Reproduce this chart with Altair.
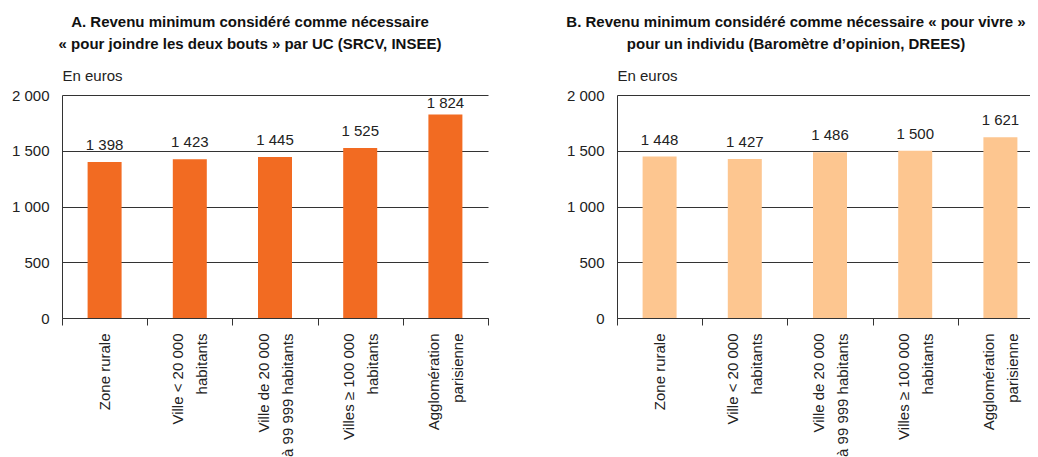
import altair as alt
import pandas as pd

categories = ["Zone rurale", "Ville < 20 000|habitants", "Ville de 20 000|à 99 999 habitants",
              "Villes ≥ 100 000|habitants", "Agglomération|parisienne"]
values_a = [1398, 1423, 1445, 1525, 1824]
values_b = [1448, 1427, 1486, 1500, 1621]
title_a = ["A. Revenu minimum considéré comme nécessaire", "« pour joindre les deux bouts » par UC (SRCV, INSEE)"]
title_b = ["B. Revenu minimum considéré comme nécessaire « pour vivre »", "pour un individu (Baromètre d’opinion, DREES)"]
unit = "En euros"
y_ticks = [0, 500, 1000, 1500, 2000]

FONT = "Liberation Sans, Arial, sans-serif"
FS = 15
ZW = "\u200b"

# two-line labels become [line1, zwsp, line2] and single-line ones [zwsp, text] so that,
# with a half line height and a fixed offset, every label block is centred on its band
LABEL_EXPR = ("indexof(datum.label, '|') >= 0 ? split(replace(datum.label, '|', '|" + ZW + "|'), '|')"
              " : ['" + ZW + "', datum.label]")


def panel(values, title, color, title_dx):
    df = pd.DataFrame({"cat": categories, "val": values})
    df["lab"] = [f"{v:,}".replace(",", " ") for v in values]
    x = alt.X("cat:N", sort=None, title=None,
              scale=alt.Scale(paddingInner=0, paddingOuter=0),
              axis=alt.Axis(labelAngle=-90, labelAlign="right", labelBaseline="middle",
                            labelExpr=LABEL_EXPR, labelLineHeight=12, labelOffset=-12,
                            tickBand="extent", tickSize=7, labelPadding=8,
                            domainColor="#333", tickColor="#333", grid=False))
    yaxis = alt.Axis(values=y_ticks, title=unit, titleAngle=0, titleX=0, titleY=-15,
                     titleAlign="left", titleBaseline="alphabetic", titleFontWeight="normal",
                     titleFont=FONT, titleFontSize=FS, titleColor="#222",
                     labelExpr="replace(format(datum.value, ','), ',', ' ')",
                     ticks=False, labelPadding=13, grid=True, gridColor="#333",
                     domainColor="#333")
    yscale = alt.Scale(domain=[0, 2000])
    bars = alt.Chart().mark_bar(color=color, size=34).encode(
        x=x, y=alt.Y("val:Q", scale=yscale, axis=yaxis))
    # labels sit 12px above the bar, kept inside the plot area near the top
    text = alt.Chart().mark_text(baseline="alphabetic", dy=-12, font=FONT, fontSize=FS,
                                 color="#222").encode(
        x=x, y=alt.Y("ylab:Q", scale=yscale, axis=yaxis), text="lab:N")
    return alt.layer(bars, text, data=df).transform_calculate(
        ylab="min(datum.val, 1776)").properties(
        width=426, height=223,
        title=alt.TitleParams(title, anchor="middle", dx=title_dx, font=FONT,
                              fontSize=FS, fontWeight="bold", lineHeight=22, color="#111",
                              offset=16))


chart = alt.hconcat(panel(values_a, title_a, "#F26B22", -25),
                    panel(values_b, title_b, "#FDC690", -34), spacing=77).configure_view(
    stroke=None).configure_axis(labelFont=FONT, labelFontSize=FS, labelColor="#222").properties(
    autosize=alt.AutoSizeParams(type="none"),
    padding={"left": 54, "top": 87, "right": 968, "bottom": 354})

chart.save("out.html", embed_options={"renderer": "svg", "actions": False})
